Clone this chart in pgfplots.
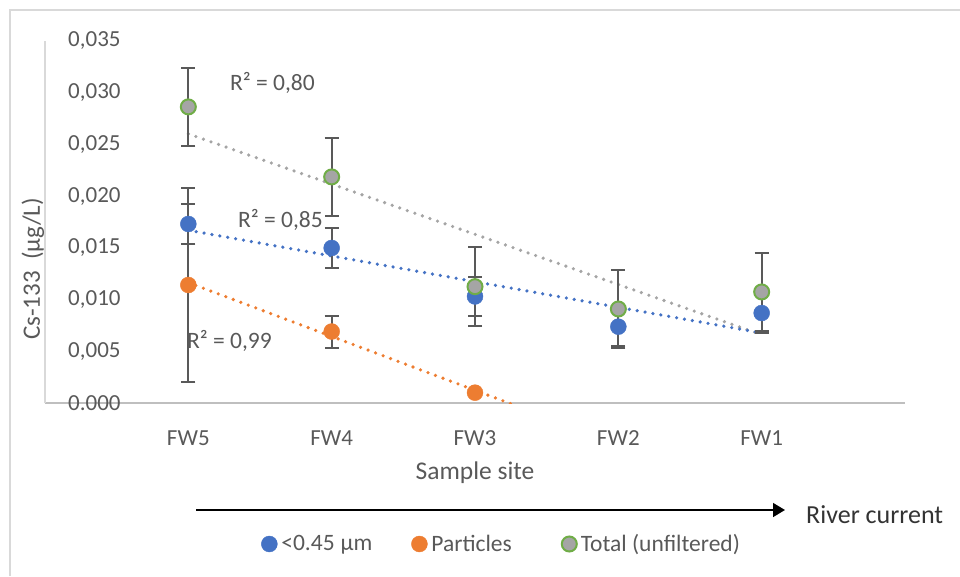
\documentclass[border=0pt]{standalone}
\usepackage{pgfplots}
\pgfplotsset{compat=1.18}
\usepackage{fontspec}
\setmainfont{Carlito}
\usetikzlibrary{arrows.meta}
\definecolor{txt}{HTML}{595959}
\definecolor{cblue}{HTML}{4472C4}
\definecolor{corange}{HTML}{ED7D31}
\definecolor{cgray}{HTML}{A5A5A5}
\definecolor{cgreen}{HTML}{70AD47}
\definecolor{errc}{HTML}{595959}
\definecolor{axc}{HTML}{BFBFBF}
\definecolor{brd}{HTML}{D9D9D9}

\pgfplotstableread{
x y e
1 0.01731 0.0019
2 0.01499 0.0019
3 0.01030 0.0019
4 0.00738 0.0019
5 0.00870 0.0019
}\blue
\pgfplotstableread{
x y e
1 0.01141 0.0094
2 0.00691 0.00155
3 0.00100 0.0
}\orange
\pgfplotstableread{
x y e
1 0.02863 0.0038
2 0.02186 0.0038
3 0.01125 0.0038
4 0.00909 0.0038
5 0.01074 0.0038
}\total

\begin{document}
\begin{tikzpicture}[x=1pt,y=1pt]
\useasboundingbox (-45,-173) rectangle (915,403);
\draw[brd, line width=1.3pt] (-35,-173) -- (-35,393) -- (915,393);
\begin{axis}[
  at={(0pt,0pt)}, anchor=south west,
  scale only axis, width=860pt, height=362pt,
  xmin=0, xmax=6, ymin=0, ymax=0.035,
  scaled y ticks=false,
  axis x line*=bottom, axis y line*=left,
  x axis line style={draw=axc, line width=2pt, -},
  y axis line style={draw=brd, line width=1.3pt, -},
  xtick={1,2,3,4,5}, xticklabels={FW5,FW4,FW3,FW2,FW1},
  ytick={0,0.005,0.01,0.015,0.02,0.025,0.03,0.035},
  yticklabels={0.000,{0,005},{0,010},{0,015},{0,020},{0,025},{0,030},{0,035}},
  major tick length=0pt,
  tick style={draw=none},
  yticklabel style={anchor=west, inner sep=0pt, xshift=23pt, font=\fontsize{23}{27}\selectfont, text=txt},
  xticklabel style={anchor=center, inner sep=0pt, yshift=-35pt, font=\fontsize{23}{27}\selectfont, text=txt},
  xlabel={Sample site},
  xlabel style={at={(axis description cs:0.5,0)}, anchor=center, yshift=-70pt, font=\fontsize{25.5}{30}\selectfont, text=txt},
  ylabel={Cs-133\ \ (µg/L)},
  ylabel style={at={(axis description cs:-0.014,0.37)}, anchor=center, rotate=0, font=\fontsize{25}{30}\selectfont, text=txt},
  legend style={at={(axis description cs:0.531,-0.3895)}, anchor=center, draw=none, fill=none,
    font=\fontsize{23.5}{27}\selectfont, text=txt, inner sep=0pt,
    /tikz/every odd column/.append style={column sep=2pt},
    /tikz/column 2/.style={column sep=37pt},
    /tikz/column 4/.style={column sep=48pt}},
  legend columns=3,
  legend cell align=left,
  legend image code/.code={\draw[#1] plot coordinates {(0pt,0pt)};},
]
% trendlines
\addplot[forget plot, cgray, line width=3.6pt, line cap=round, dash pattern=on 0pt off 8pt] coordinates {(1,0.02602) (5,0.00660)};
\addplot[forget plot, cblue, line width=3.6pt, line cap=round, dash pattern=on 0pt off 8pt] coordinates {(1,0.01670) (5,0.00677)};
\addplot[forget plot, corange, line width=3.6pt, line cap=round, dash pattern=on 0pt off 8pt] coordinates {(1,0.01164) (5,-0.00918)};
% error bars
\pgfplotsset{errstyle/.style={forget plot, draw=none, mark=none,
  error bars/.cd, y dir=both, y explicit,
  error bar style={draw=errc, line width=2pt, solid},
  error mark options={rotate=90, mark size=7pt, line width=2pt, draw=errc}}}
\addplot[errstyle] table[x=x, y=y, y error=e] {\blue};
\addplot[errstyle] table[x=x, y=y, y error=e] {\orange};
\addplot[errstyle] table[x=x, y=y, y error=e] {\total};
% markers
\addplot[only marks, mark=*, mark size=8pt, mark options={fill=cblue, draw=cblue}] table[x=x, y=y] {\blue};
\addlegendentry{<0.45\hspace{6pt}µm}
\addplot[only marks, mark=*, mark size=8pt, mark options={fill=corange, draw=corange}] table[x=x, y=y] {\orange};
\addlegendentry{Particles}
\addplot[only marks, mark=*, mark size=7.5pt, mark options={fill=cgray, draw=cgreen, line width=2pt}] table[x=x, y=y] {\total};
\addlegendentry{Total (unfiltered)}
% R^2 labels
\node[text=txt, font=\fontsize{23.5}{27}\selectfont] at (axis cs:1.587,0.03095) {R² = 0,80};
\node[text=txt, font=\fontsize{23.5}{27}\selectfont] at (axis cs:1.643,0.0177) {R² = 0,85};
\node[text=txt, font=\fontsize{23.5}{27}\selectfont] at (axis cs:1.287,0.0060) {R² = 0,99};
\end{axis}
\draw[black, line width=1.5pt, -{Triangle[length=12pt,width=14pt]}] (151,-107) -- (740,-107);
\node[anchor=west, inner sep=0pt, text=black!80, font=\fontsize{26}{30}\selectfont] at (761,-112) {River current};
\end{tikzpicture}
\end{document}
